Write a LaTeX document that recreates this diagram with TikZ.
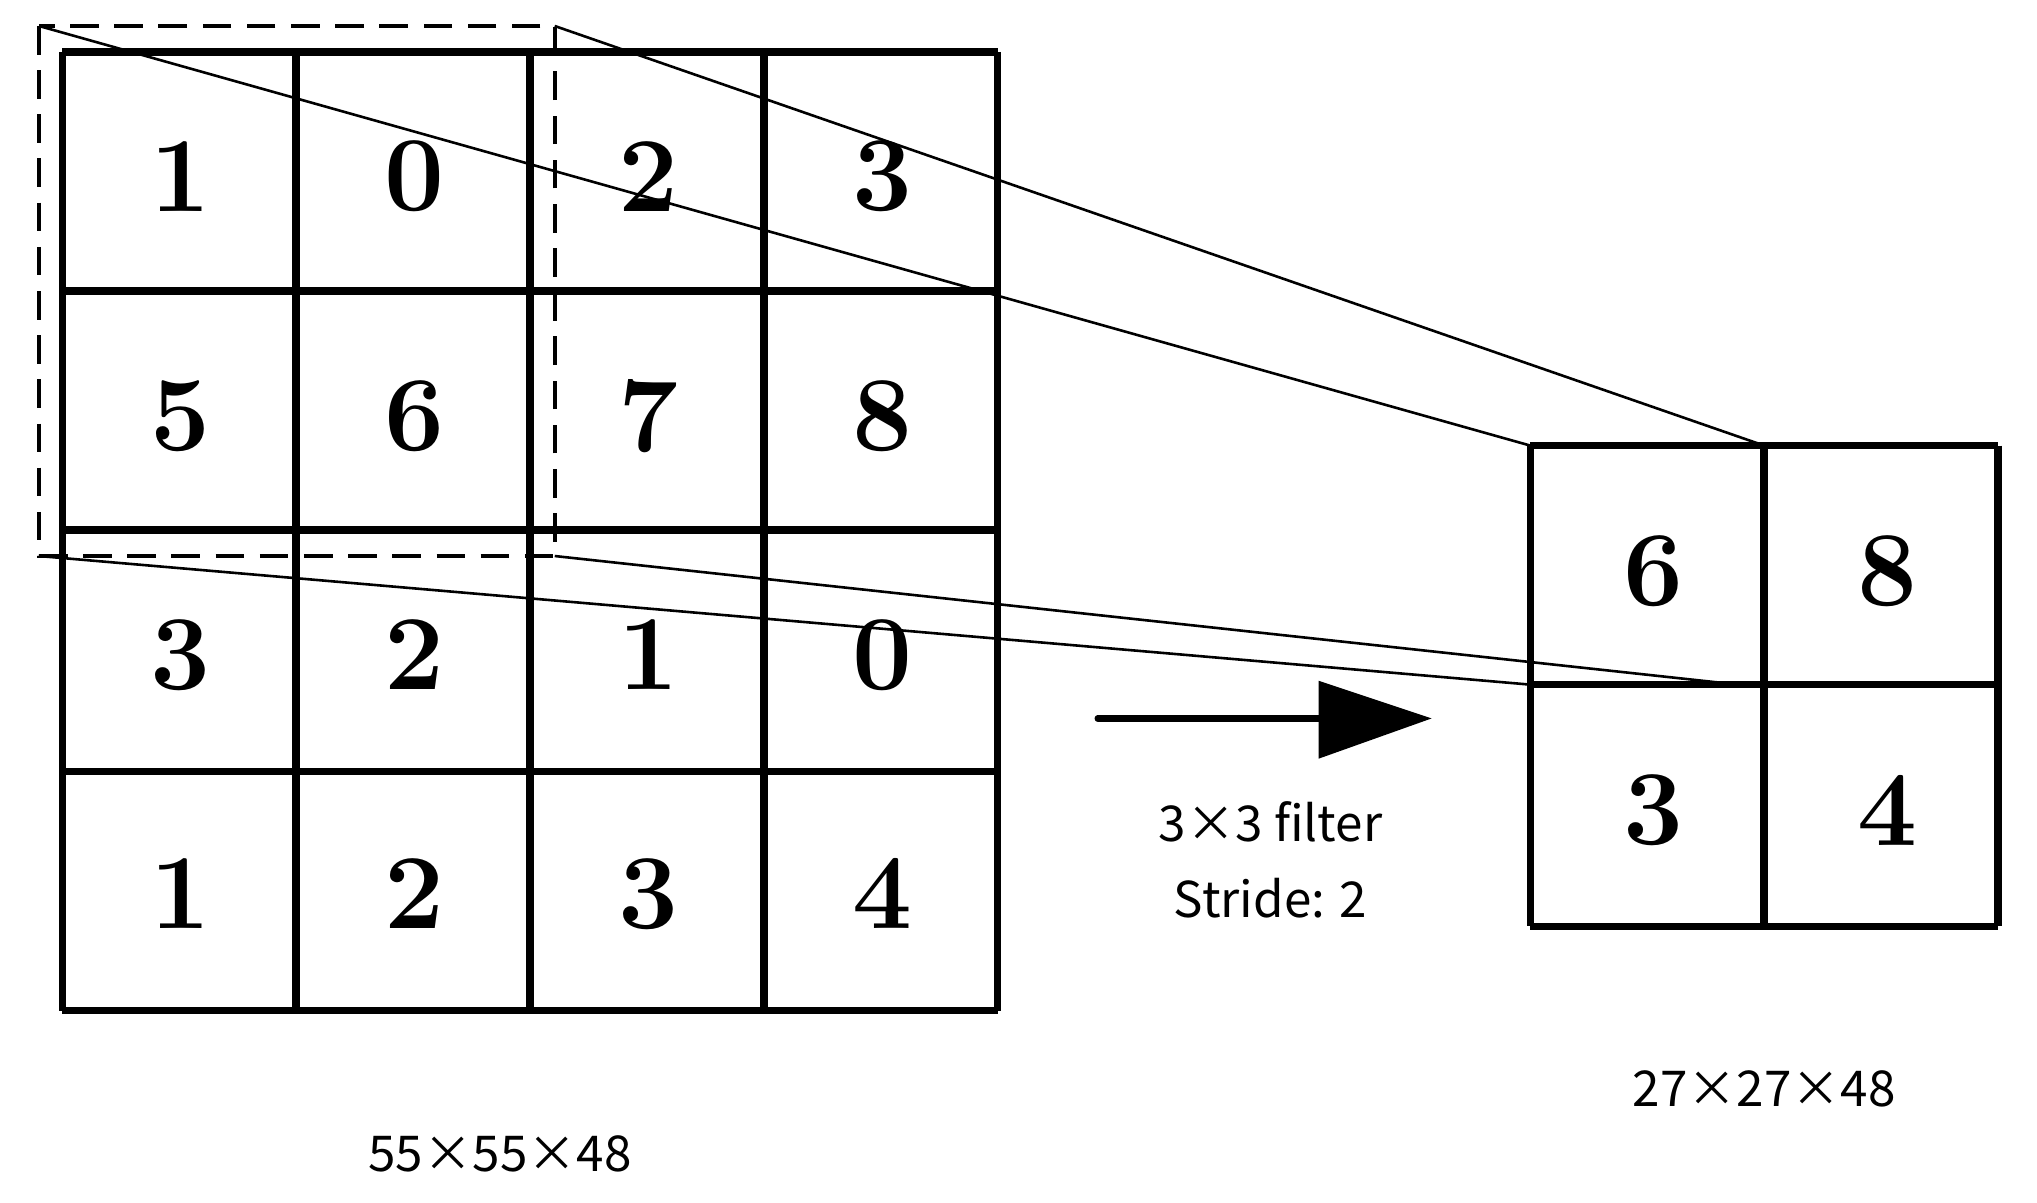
\documentclass[tikz,border=0pt]{standalone}
\usepackage{fontspec}
\newfontfamily\cjk{Noto Sans CJK SC}
\begin{document}
\begin{tikzpicture}[x=1pt,y=-1pt,
  cellnum/.style={font=\fontsize{82}{82}\selectfont\bfseries},
  lbl/.style={font=\cjk\fontsize{38}{58}\selectfont, align=center},
  thin/.style={line width=2pt},
  grid/.style={line width=5.8pt}]
\useasboundingbox (0,0) rectangle (1568,926);
% left grid
\foreach \x in {48,228,408,588,768} \draw[grid] (\x,40) -- (\x,778);
\foreach \y in {40,224,408,594,778} \draw[grid] (48,\y) -- (768,\y);
\foreach \r/\row in {0/{1,0,2,3},1/{5,6,7,8},2/{3,2,1,0},3/{1,2,3,4}} {
  \foreach \v [count=\c from 0] in \row
    \node[cellnum] at (139+180*\c, 136+184*\r) {\v};
}
% dashed window
\draw[line width=3pt, dash pattern=on 22pt off 12pt] (30,20) rectangle (427,428);
\coordinate (wa) at (30,20); \coordinate (wb) at (427,20);
\coordinate (wc) at (30,428); \coordinate (wd) at (427,428);
% right grid
\foreach \x in {1178,1358,1538} \draw[grid] (\x,343) -- (\x,713);
\foreach \y in {343,527,713} \draw[grid] (1178,\y) -- (1538,\y);
\node[cellnum] at (1273,440) {6};
\node[cellnum] at (1453,440) {8};
\node[cellnum] at (1273,624) {3};
\node[cellnum] at (1453,624) {4};
\coordinate (ra) at (1178,343); \coordinate (rb) at (1358,343);
\coordinate (rc) at (1178,527); \coordinate (rd) at (1338,527);
% projection lines
\draw[thin] (wa) -- (ra);
\draw[thin] (wb) -- (rb);
\draw[thin] (wc) -- (rc);
\draw[thin] (wd) -- (rd);
% arrow
\coordinate (as) at (845,553); \coordinate (ae) at (1015,553);
\draw[line width=5pt, line cap=round] (as) -- (ae);
\fill (1015,524) -- (1102,553) -- (1015,584) -- cycle;
\node[lbl] (f) at (978,662) {3×3 filter\\Stride: 2};
\node[lbl] (l1) at (385,888) {55×55×48};
\node[lbl] (l2) at (1358,838) {27×27×48};
\end{tikzpicture}
\end{document}
